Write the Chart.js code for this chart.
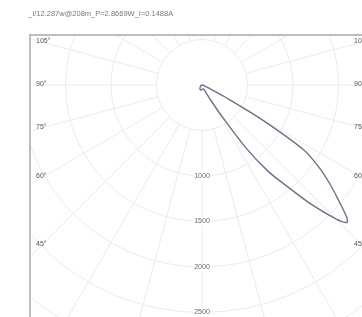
<!DOCTYPE html>
<html>
<head>
<meta charset="utf-8">
<style>
  html, body { margin: 0; padding: 0; background: #fff; }
  #lid { display: block; }
</style>
<script src="https://cdn.jsdelivr.net/npm/chart.js@4.4.0/dist/chart.umd.min.js"></script>
</head>
<body>
<canvas id="lid" width="362" height="317"></canvas>
<script>
// luminous intensity, C0/C180 plane (gamma in degrees, + = right of nadir)
var gammaDeg = [-90, -60, -40, -30, -20, -10, 0, 10, 20, 25, 27.5, 30, 32.5, 35, 37.5, 40, 42.5, 45, 46.5,
                47.5, 50, 52.5, 55, 57.5, 60, 62.5, 65, 67.5, 70, 75, 80, 90];
var intensityCd = [5, 15, 30, 45, 55, 55, 50, 45, 45, 60, 90, 200, 420, 850, 1200, 1450, 1780, 2080, 2195,
                   2160, 1950, 1760, 1560, 1320, 760, 280, 90, 45, 30, 20, 15, 5];

var ringValues = [500, 1000, 1500, 2000, 2500, 3000, 3500];
var ringLabels = ['1000', '1500', '2000', '2500'];
var ringLabelValues = [1000, 1500, 2000, 2500];
var spokeStepDeg = 15;
var angleTicks = [45, 60, 75, 90, 105];
var angleLabels = ['45°', '60°', '75°', '90°', '105°'];
var titleText = '_I/12.287w@208m_P=2.8669W_I=0.1488A';

(function(){
  var W = 362, H = 317;
  var CX = 202, CY = 85;       // pole position in pixels
  var K = 0.091;               // pixels per cd
  var FRAME_L = 30, FRAME_T = 35;
  var gridColor = '#ebebeb';
  var labelColor = '#555';
  var curveColor = '#6c6f8e';

  var pts = gammaDeg.map(function(g, i){
    var r = g * Math.PI / 180;
    return { x: intensityCd[i] * Math.sin(r), y: -intensityCd[i] * Math.cos(r) };
  });
  pts.push(pts[0]);

  var polarGrid = {
    id: 'polarGrid',
    beforeDatasetsDraw: function(chart){
      var ctx = chart.ctx;
      var xs = chart.scales.x, ys = chart.scales.y;
      var cx = xs.getPixelForValue(0), cy = ys.getPixelForValue(0);
      var pr = function(v){ return xs.getPixelForValue(v) - cx; };
      ctx.save();
      ctx.beginPath();
      ctx.rect(FRAME_L, FRAME_T, W, H);
      ctx.clip();
      ctx.strokeStyle = gridColor;
      ctx.lineWidth = 1;
      ringValues.forEach(function(v){
        ctx.beginPath();
        ctx.arc(cx, cy, pr(v), 0, Math.PI * 2);
        ctx.stroke();
      });
      var r0 = pr(ringValues[0]), r1 = pr(ringValues[ringValues.length - 1]);
      for(var a = 0; a < 360; a += spokeStepDeg){
        var t = a * Math.PI / 180;
        var dx = Math.sin(t), dy = Math.cos(t);
        ctx.beginPath();
        ctx.moveTo(cx + dx * r0, cy + dy * r0);
        ctx.lineTo(cx + dx * r1, cy + dy * r1);
        ctx.stroke();
      }
      ctx.restore();
    },
    afterDatasetsDraw: function(chart){
      var ctx = chart.ctx;
      var xs = chart.scales.x, ys = chart.scales.y;
      var cx = xs.getPixelForValue(0), cy = ys.getPixelForValue(0);
      ctx.save();
      // frame
      ctx.strokeStyle = '#bdbdbd';
      ctx.lineWidth = 2;
      ctx.strokeRect(FRAME_L, FRAME_T, W, H);
      ctx.font = '7px "Liberation Sans", Arial, sans-serif';
      ctx.textBaseline = 'middle';
      // intensity labels on the 0° line
      ctx.textAlign = 'center';
      ringLabelValues.forEach(function(v, i){
        var py = ys.getPixelForValue(-v);
        var w = ctx.measureText(ringLabels[i]).width;
        ctx.fillStyle = '#fff';
        ctx.fillRect(cx - w / 2 - 1, py - 4, w + 2, 8);
        ctx.fillStyle = '#666';
        ctx.fillText(ringLabels[i], cx, py);
      });
      // angle labels where spokes cross the side columns
      ctx.fillStyle = labelColor;
      ctx.textAlign = 'left';
      angleTicks.forEach(function(a, i){
        var t = a * Math.PI / 180;
        var yl = cy + (cx - 42) * Math.cos(t) / Math.sin(t);
        ctx.fillText(angleLabels[i], 36, yl - 1);
        ctx.fillText(angleLabels[i], 354, yl - 1);
      });
      // title
      ctx.fillStyle = '#777';
      ctx.font = '7.5px "Liberation Sans", Arial, sans-serif';
      ctx.fillText(titleText, 28, 14);
      ctx.restore();
    }
  };

  new Chart(document.getElementById('lid').getContext('2d'), {
    type: 'scatter',
    data: {
      datasets: [{
        label: 'C0-C180',
        data: pts,
        showLine: true,
        borderColor: curveColor,
        borderWidth: 1.4,
        pointRadius: 0,
        tension: 0.3,
        fill: false
      }]
    },
    options: {
      responsive: false,
      animation: false,
      layout: { padding: 0, autoPadding: false },
      scales: {
        x: { type: 'linear', display: false, min: -CX / K, max: (W - CX) / K },
        y: { type: 'linear', display: false, min: -(H - CY) / K, max: CY / K }
      },
      plugins: { legend: { display: false }, tooltip: { enabled: false } }
    },
    plugins: [polarGrid]
  });
})();
</script>
</body>
</html>
